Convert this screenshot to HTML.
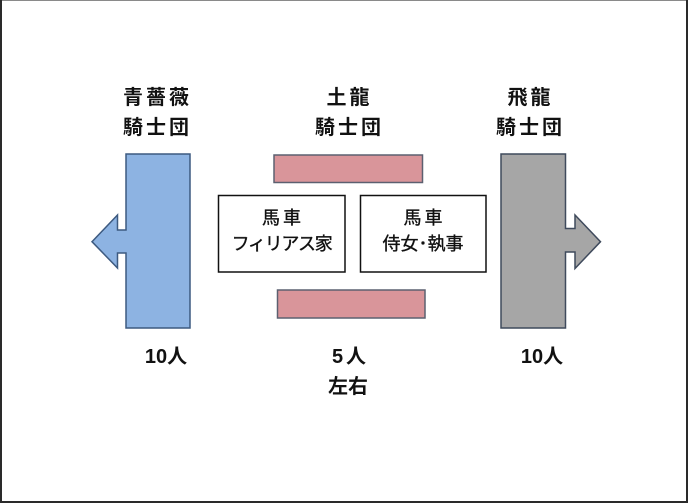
<!DOCTYPE html>
<html><head><meta charset="utf-8">
<style>
html,body{margin:0;padding:0;background:#fff;}
#c{position:relative;width:688px;height:503px;overflow:hidden;background:#fff;}
svg{position:absolute;left:0;top:0;}
.t{position:absolute;font-family:"Liberation Sans","Noto Sans CJK JP",sans-serif;color:#111;white-space:nowrap;text-align:center;line-height:1;}
.b{-webkit-text-stroke:0.35px #111;}
</style></head><body>
<div id="c">
<svg width="688" height="503" viewBox="0 0 688 503">
  <!-- frame -->
  <rect x="0" y="0" width="688" height="503" fill="#fff"/>
  <line x1="0" y1="0.5" x2="688" y2="0.5" stroke="#8a8a8a" stroke-width="1"/>
  <line x1="1" y1="0" x2="1" y2="503" stroke="#2a2a2a" stroke-width="2"/>
  <line x1="687" y1="0" x2="687" y2="503" stroke="#2a2a2a" stroke-width="2"/>
  <line x1="0" y1="502" x2="688" y2="502" stroke="#2a2a2a" stroke-width="2"/>
  <!-- left blue arrow -->
  <polygon points="126,154 190,154 190,328 126,328 126,253 117.5,253 117.5,268 92,241.7 117.5,215 117.5,230 126,230" fill="#8db3e2" stroke="#3d5a80" stroke-width="1.5" stroke-linejoin="miter"/>
  <!-- right gray arrow -->
  <polygon points="501,154 565.5,154 565.5,228.5 575,228.5 575,215 600.5,241.7 575,268.5 575,252 565.5,252 565.5,328 501,328" fill="#a6a6a6" stroke="#3f4a5c" stroke-width="1.5" stroke-linejoin="miter"/>
  <!-- pink rects -->
  <rect x="274" y="155" width="148.5" height="27.5" fill="#d9959a" stroke="#5c6070" stroke-width="1.5"/>
  <rect x="277.5" y="290" width="147.5" height="28" fill="#d9959a" stroke="#5c6070" stroke-width="1.5"/>
  <!-- white boxes -->
  <rect x="218.5" y="195.5" width="126.5" height="76.5" fill="#fff" stroke="#111" stroke-width="1.5"/>
  <rect x="360.5" y="195.5" width="125.5" height="76.5" fill="#fff" stroke="#111" stroke-width="1.5"/>
</svg>

<!-- headings -->
<div class="t" style="left:106px;top:88px;width:100px;font-size:20px;font-weight:bold;letter-spacing:3px;padding-left:3px;box-sizing:border-box;">青薔薇</div>
<div class="t" style="left:106px;top:118px;width:100px;font-size:20px;font-weight:bold;letter-spacing:3px;padding-left:3px;box-sizing:border-box;">騎士団</div>

<div class="t" style="left:298px;top:88px;width:100px;font-size:20px;font-weight:bold;letter-spacing:3px;padding-left:3px;box-sizing:border-box;">土龍</div>
<div class="t" style="left:298px;top:118px;width:100px;font-size:20px;font-weight:bold;letter-spacing:3px;padding-left:3px;box-sizing:border-box;">騎士団</div>

<div class="t" style="left:479px;top:88px;width:100px;font-size:20px;font-weight:bold;letter-spacing:3px;padding-left:3px;box-sizing:border-box;">飛龍</div>
<div class="t" style="left:479px;top:118px;width:100px;font-size:20px;font-weight:bold;letter-spacing:3px;padding-left:3px;box-sizing:border-box;">騎士団</div>

<!-- box texts -->
<div class="t b" style="left:218px;top:209px;width:127px;font-size:18px;letter-spacing:3px;padding-left:3px;box-sizing:border-box;">馬車</div>
<div class="t b" style="left:218px;top:235px;width:127px;font-size:18px;letter-spacing:-1.3px;">フィリアス家</div>

<div class="t b" style="left:360px;top:209px;width:126px;font-size:18px;letter-spacing:3px;padding-left:3px;box-sizing:border-box;">馬車</div>
<div class="t b" style="left:360px;top:235px;width:126px;font-size:18px;">侍女･執事</div>

<!-- bottom labels -->
<div class="t" style="left:116px;top:347px;width:100px;font-size:20px;font-weight:bold;">10人</div>
<div class="t" style="left:299px;top:347px;width:100px;font-size:20px;font-weight:bold;letter-spacing:3px;padding-left:3px;box-sizing:border-box;">5人</div>
<div class="t" style="left:298px;top:377px;width:100px;font-size:20px;font-weight:bold;">左右</div>
<div class="t" style="left:492px;top:347px;width:100px;font-size:20px;font-weight:bold;">10人</div>
</div>
</body></html>
